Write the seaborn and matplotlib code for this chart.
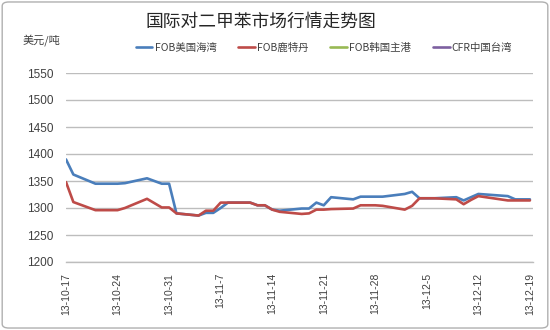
import matplotlib
matplotlib.use("Agg")
import matplotlib.pyplot as plt
import matplotlib.transforms as mtransforms
import seaborn as sns
import pandas as pd
from matplotlib.lines import Line2D
from matplotlib.patches import FancyBboxPatch

# ---------------- data ----------------
dates = [
    "2013-10-17", "2013-10-18", "2013-10-21", "2013-10-22", "2013-10-23", "2013-10-24", "2013-10-25",
    "2013-10-28", "2013-10-29", "2013-10-30", "2013-10-31", "2013-11-01",
    "2013-11-04", "2013-11-05", "2013-11-06", "2013-11-07", "2013-11-08",
    "2013-11-11", "2013-11-12", "2013-11-13", "2013-11-14", "2013-11-15",
    "2013-11-18", "2013-11-19", "2013-11-20", "2013-11-21", "2013-11-22",
    "2013-11-25", "2013-11-26", "2013-11-27", "2013-11-28", "2013-11-29",
    "2013-12-02", "2013-12-03", "2013-12-04", "2013-12-05", "2013-12-06",
    "2013-12-09", "2013-12-10", "2013-12-11", "2013-12-12", "2013-12-13",
    "2013-12-16", "2013-12-17", "2013-12-18", "2013-12-19",
]
fob_usgulf = [
    1390, 1362, 1345, 1345, 1345, 1345, 1346,
    1355, 1350, 1345, 1345, 1290,
    1286, 1291, 1291, 1300, 1310,
    1310, 1305, 1305, 1297, 1295,
    1299, 1299, 1310, 1305, 1320,
    1316, 1321, 1321, 1321, 1321,
    1326, 1330, 1318, 1318, 1318,
    1320, 1314, 1320, 1326, 1325,
    1322, 1316, 1316, 1316,
]
fob_rotterdam = [
    1348, 1311, 1296, 1296, 1296, 1296, 1300,
    1317, 1309, 1301, 1301, 1290,
    1286, 1295, 1295, 1310, 1310,
    1310, 1305, 1305, 1297, 1293,
    1289, 1290, 1297, 1297, 1298,
    1299, 1305, 1305, 1305, 1304,
    1297, 1304, 1318, 1318, 1318,
    1316, 1307, 1315, 1322, 1320,
    1314, 1314, 1314, 1314,
]
series_names = ["FOB美国海湾", "FOB鹿特丹", "FOB韩国主港", "CFR中国台湾"]
series_colors = ["#4A7EBB", "#BE4B48", "#98B954", "#7D60A0"]
tick_dates = ["2013-10-17", "2013-10-24", "2013-10-31", "2013-11-07", "2013-11-14",
              "2013-11-21", "2013-11-28", "2013-12-05", "2013-12-12", "2013-12-19"]
tick_labels = ["13-10-17", "13-10-24", "13-10-31", "13-11-7", "13-11-14",
               "13-11-21", "13-11-28", "13-12-5", "13-12-12", "13-12-19"]
y_ticks = [1200, 1250, 1300, 1350, 1400, 1450, 1500, 1550]

# ---------------- figure ----------------
sns.set_theme(style="white")
plt.rcParams["font.family"] = ["Liberation Sans", "Noto Sans CJK SC", "DejaVu Sans"]

df = pd.concat([
    pd.DataFrame({"date": pd.to_datetime(dates), "price": fob_usgulf, "series": series_names[0]}),
    pd.DataFrame({"date": pd.to_datetime(dates), "price": fob_rotterdam, "series": series_names[1]}),
])

fig = plt.figure(figsize=(5.5, 3.3), dpi=100)
ax = fig.add_axes([66 / 550, 1 - 262 / 330, (533 - 66) / 550, (262 - 73) / 330])

sns.lineplot(data=df, x="date", y="price", hue="series",
             palette={series_names[0]: series_colors[0], series_names[1]: series_colors[1]},
             linewidth=1.9, ax=ax, legend=False, zorder=3)

ax.set_ylim(y_ticks[0], y_ticks[-1])
ax.set_yticks(y_ticks)
ax.set_xlim(pd.Timestamp(dates[0]), pd.Timestamp(dates[-1]) + pd.Timedelta(hours=10))
ax.set_xticks(pd.to_datetime(tick_dates))
ax.set_xticklabels(tick_labels, rotation=90, fontsize=7.5, color="#404040")
offset = mtransforms.ScaledTranslation(3 / 100, 0, fig.dpi_scale_trans)
for lbl in ax.get_xticklabels():
    lbl.set_transform(lbl.get_transform() + offset)
ax.tick_params(axis="x", length=0, pad=8)
ax.tick_params(axis="y", length=0, pad=9, labelsize=8.5, labelcolor="#404040")
ax.set_xlabel("")
ax.set_ylabel("")
ax.yaxis.grid(True, color="#BDBDBD", linewidth=1)
ax.xaxis.grid(False)
for s in ["left", "right", "top"]:
    ax.spines[s].set_visible(False)
ax.spines["bottom"].set_color("#BDBDBD")
ax.spines["bottom"].set_linewidth(1)

fig.text(261 / 550, 1 - 22 / 330, "国际对二甲苯市场行情走势图", ha="center", va="center",
         fontsize=12.8, color="#262626", family=["Noto Sans CJK SC", "DejaVu Sans"], weight="medium")
fig.text(23 / 550, 1 - 40 / 330, "美元/吨", ha="left", va="center", fontsize=8, color="#404040",
         family=["Noto Sans CJK SC", "DejaVu Sans"])

handles = [Line2D([], [], color=c, linewidth=1.9) for c in series_colors]
fig.legend(handles, series_names, loc="center", bbox_to_anchor=(324 / 550, 1 - 48 / 330),
           ncol=4, frameon=False, handlelength=1.6, handletextpad=0.2,
           columnspacing=2.1, labelcolor="#404040",
           prop={"family": ["Noto Sans CJK SC", "DejaVu Sans"], "size": 7.5})

border = FancyBboxPatch((0.004, 0.006), 0.992, 0.988, boxstyle="round,pad=0,rounding_size=0.012",
                        transform=fig.transFigure, fill=False, edgecolor="#B0B0B0", linewidth=1)
fig.patches.append(border)

fig.savefig("out.png", dpi=100)
